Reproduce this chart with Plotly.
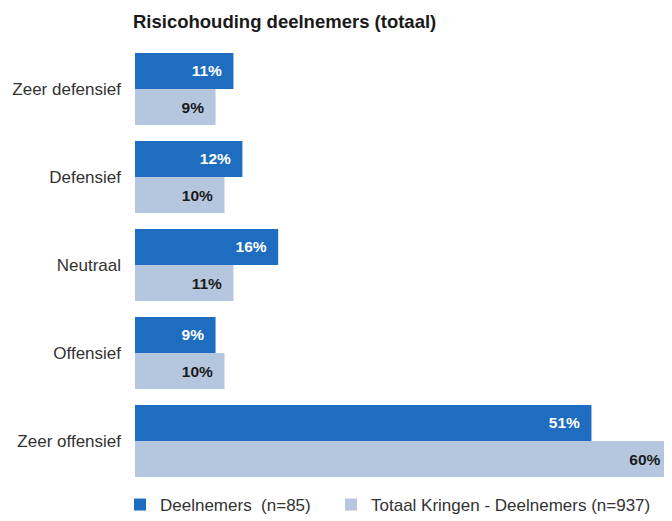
import plotly.graph_objects as go

categories = ["Zeer defensief", "Defensief", "Neutraal", "Offensief", "Zeer offensief"]
deelnemers = [11, 12, 16, 9, 51]
totaal = [9, 10, 11, 10, 60]
series_names = ["Deelnemers  (n=85)", "Totaal Kringen - Deelnemers (n=937)"]

FONT = "Liberation Sans, Arial, sans-serif"
DARK = "#1E6DC1"
LIGHT = "#B5C7DF"

W, H = 664, 513  # page body has an 8px margin
PAD = "\u00a0\u00a0"

fig = go.Figure()
fig.add_trace(go.Bar(
    y=categories, x=deelnemers, orientation="h", name=series_names[0],
    marker=dict(color=DARK, line=dict(width=0)), legend="legend",
    texttemplate="%{x}%" + PAD, textposition="inside", insidetextanchor="end",
    textfont=dict(color="white", size=15.5, family=FONT, weight="bold"),
))
fig.add_trace(go.Bar(
    y=categories, x=totaal, orientation="h", name=series_names[1],
    marker=dict(color=LIGHT, line=dict(width=0)), legend="legend2",
    texttemplate="%{x}%" + PAD, textposition="inside", insidetextanchor="end",
    textfont=dict(color="#1a1a1a", size=15.5, family=FONT, weight="bold"),
))

legend_common = dict(orientation="h", xref="container", yref="container", y=16 / H,
                     xanchor="left", yanchor="middle", itemwidth=30,
                     font=dict(size=17, color="#333333", family=FONT))

fig.update_layout(
    width=W, height=H,
    paper_bgcolor="white", plot_bgcolor="white",
    margin=dict(l=127, r=0, t=37, b=36, autoexpand=False),
    barmode="group", bargap=0.18, bargroupgap=0,
    font=dict(family=FONT, color="#333333", size=17),
    title=dict(text="<b>Risicohouding deelnemers (totaal)</b>", x=125 / W, xanchor="left",
               y=1 - 14 / H, yanchor="middle", font=dict(size=18.5, color="#1a1a1a", family=FONT)),
    uniformtext=dict(mode="show", minsize=8),
    showlegend=True,
    legend=dict(x=112 / W, **legend_common),
    legend2=dict(x=323 / W, **legend_common),
)
fig.update_xaxes(range=[0, 60], showgrid=False, zeroline=False, showticklabels=False,
                 showline=False, ticks="")
fig.update_yaxes(autorange="reversed", showgrid=False, zeroline=False, showline=False,
                 ticks="", ticklabelstandoff=13, tickfont=dict(size=17, color="#333333"))

fig.write_html("out.html")
